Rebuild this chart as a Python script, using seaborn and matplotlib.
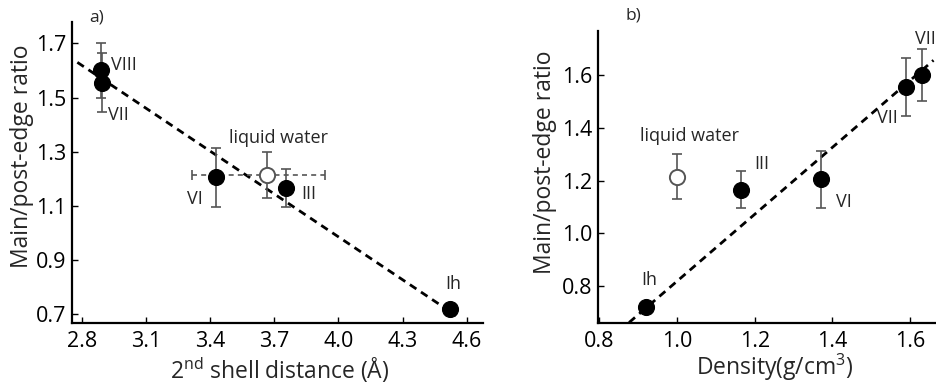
import matplotlib
matplotlib.use("Agg")
import matplotlib.pyplot as plt
import seaborn as sns
import numpy as np
import pandas as pd

# ice phases
phases = ["Ih", "III", "VI", "VII", "VIII"]
shell_dist = [4.52, 3.755, 3.43, 2.895, 2.89]
density = [0.92, 1.165, 1.37, 1.59, 1.63]
ratio = [0.72, 1.165, 1.205, 1.555, 1.60]
ratio_err = [0.012, 0.07, 0.108, 0.11, 0.10]
labels_a = ["Ih", "III", "VI", "VII", "VIII"]
labels_b = ["Ih", "III", "VI", "VII", "VII"]

# liquid water
liq_dist = 3.668
liq_dist_err = [0.35, 0.27]
liq_density = 1.00
liq_ratio = 1.215
liq_ratio_err = 0.085

# dashed linear fits (end points)
fit_a_x = [2.78, 4.55]
fit_a_y = [1.63, 0.695]
fit_b_x = [0.877, 1.66]
fit_b_y = [0.662, 1.656]

ticks_a_x = [2.8, 3.1, 3.4, 3.7, 4.0, 4.3, 4.6]
ticks_a_y = [0.7, 0.9, 1.1, 1.3, 1.5, 1.7]
ticks_b_x = [0.8, 1.0, 1.2, 1.4, 1.6]
ticks_b_y = [0.8, 1.0, 1.2, 1.4, 1.6]

df = pd.DataFrame({"phase": phases, "dist": shell_dist, "density": density,
                   "ratio": ratio, "err": ratio_err})

sns.set_theme(style="ticks")
plt.rcParams["font.family"] = ["Open Sans", "DejaVu Sans"]
plt.rcParams["mathtext.fontset"] = "custom"
plt.rcParams["mathtext.rm"] = "Open Sans"
plt.rcParams["mathtext.it"] = "Open Sans"

fig = plt.figure(figsize=(9.37, 3.85), dpi=100)
ax1 = fig.add_axes([72/937, 1-322.5/385, (483-72)/937, (322.5-22)/385])
ax2 = fig.add_axes([598/937, 1-322.5/385, (937-598)/937, (322.5-31)/385])

errc = "#555555"
txt_size = 13

def style_axes(ax, xt, yt, xlim, ylim):
	ax.set_xlim(*xlim)
	ax.set_ylim(*ylim)
	ax.set_xticks(xt)
	ax.set_yticks(yt)
	ax.set_xticklabels(["{:.1f}".format(v) for v in xt])
	ax.set_yticklabels(["{:.1f}".format(v) for v in yt])
	ax.tick_params(direction="in", length=4, width=1.0, labelsize=15.5, colors="black")
	ax.tick_params(axis="x", pad=6)
	ax.tick_params(axis="y", pad=4)
	for s in ["top", "right"]:
		ax.spines[s].set_visible(False)
	for s in ["left", "bottom"]:
		ax.spines[s].set_linewidth(1.6)
		ax.spines[s].set_color("black")

# ---- panel a ----
sns.lineplot(x=fit_a_x, y=fit_a_y, ax=ax1, color="black", lw=2.0,
	linestyle=(0, (2.8, 2.0)), zorder=2)
ax1.errorbar(df["dist"], df["ratio"], yerr=df["err"], fmt="none", ecolor=errc,
	elinewidth=1.2, capsize=3.5, capthick=1.2, zorder=3)
ax1.errorbar([liq_dist], [liq_ratio], yerr=[liq_ratio_err], fmt="none", ecolor=errc,
	elinewidth=1.2, capsize=3.5, capthick=1.2, zorder=3)
eb = ax1.errorbar([liq_dist], [liq_ratio], xerr=[[liq_dist_err[0]], [liq_dist_err[1]]],
	fmt="none", ecolor=errc, elinewidth=1.2, capsize=3.5, capthick=1.2, zorder=3)
eb[2][0].set_linestyle((0, (3, 2.5)))
sns.scatterplot(data=df, x="dist", y="ratio", ax=ax1, color="black", s=130,
	edgecolor="black", zorder=4)
ax1.scatter([liq_dist], [liq_ratio], s=120, facecolor="white", edgecolor="#555555",
	linewidth=1.4, zorder=4)

offs_a = {"Ih": (4, 25, "center"), "III": (23, -6, "center"), "VI": (-22, -22, "center"),
	"VII": (6, -32, "left"), "VIII": (10, 5, "left")}
for p, lab, x, y in zip(phases, labels_a, shell_dist, ratio):
	dx, dy, ha = offs_a[p]
	ax1.annotate(lab, (x, y), xytext=(dx, dy), textcoords="offset pixels",
		ha=ha, va="center", fontsize=txt_size)
ax1.annotate("liquid water", (liq_dist, liq_ratio), xytext=(11, 37),
	textcoords="offset pixels", ha="center", va="center", fontsize=txt_size)

style_axes(ax1, ticks_a_x, ticks_a_y, (2.755, 4.676), (0.669, 1.779))
ax1.set_xlabel("2$^{\\rm nd}$ shell distance (Å)", fontsize=16.5, va="center")
ax1.set_ylabel("Main/post-edge ratio", fontsize=16.5, va="center")
ax1.xaxis.set_label_coords(0.506, -0.16)
ax1.yaxis.set_label_coords(-0.121, 0.554)

# ---- panel b ----
sns.lineplot(x=fit_b_x, y=fit_b_y, ax=ax2, color="black", lw=2.0,
	linestyle=(0, (2.8, 2.0)), zorder=2)
ax2.errorbar(df["density"], df["ratio"], yerr=df["err"], fmt="none", ecolor=errc,
	elinewidth=1.2, capsize=3.5, capthick=1.2, zorder=3)
ax2.errorbar([liq_density], [liq_ratio], yerr=[liq_ratio_err], fmt="none", ecolor=errc,
	elinewidth=1.2, capsize=3.5, capthick=1.2, zorder=3)
sns.scatterplot(data=df, x="density", y="ratio", ax=ax2, color="black", s=130,
	edgecolor="black", zorder=4)
ax2.scatter([liq_density], [liq_ratio], s=120, facecolor="white", edgecolor="#555555",
	linewidth=1.4, zorder=4)

offs_b = {"Ih": (3, 27, "center"), "III": (21, 26, "center"), "VI": (23, -23, "center"),
	"VII": (-19, -31, "center"), "VIII": (4, 36, "center")}
for p, lab, x, y in zip(phases, labels_b, density, ratio):
	dx, dy, ha = offs_b[p]
	ax2.annotate(lab, (x, y), xytext=(dx, dy), textcoords="offset pixels",
		ha=ha, va="center", fontsize=txt_size)
ax2.annotate("liquid water", (liq_density, liq_ratio), xytext=(13, 41),
	textcoords="offset pixels", ha="center", va="center", fontsize=txt_size)

style_axes(ax2, ticks_b_x, ticks_b_y, (0.797, 1.669), (0.662, 1.767))
ax2.set_xlabel("Density(g/cm$^3$)", fontsize=16.5, va="center")
ax2.set_ylabel("Main/post-edge ratio", fontsize=16.5, va="center")
ax2.xaxis.set_label_coords(0.522, -0.155)
ax2.yaxis.set_label_coords(-0.155, 0.549)

fig.text(96.7/937, 1-17/385, "a)", fontsize=12.5, ha="center", va="center")
fig.text(633.3/937, 1-15/385, "b)", fontsize=12.5, ha="center", va="center")

plt.savefig("out.png", dpi=100)
